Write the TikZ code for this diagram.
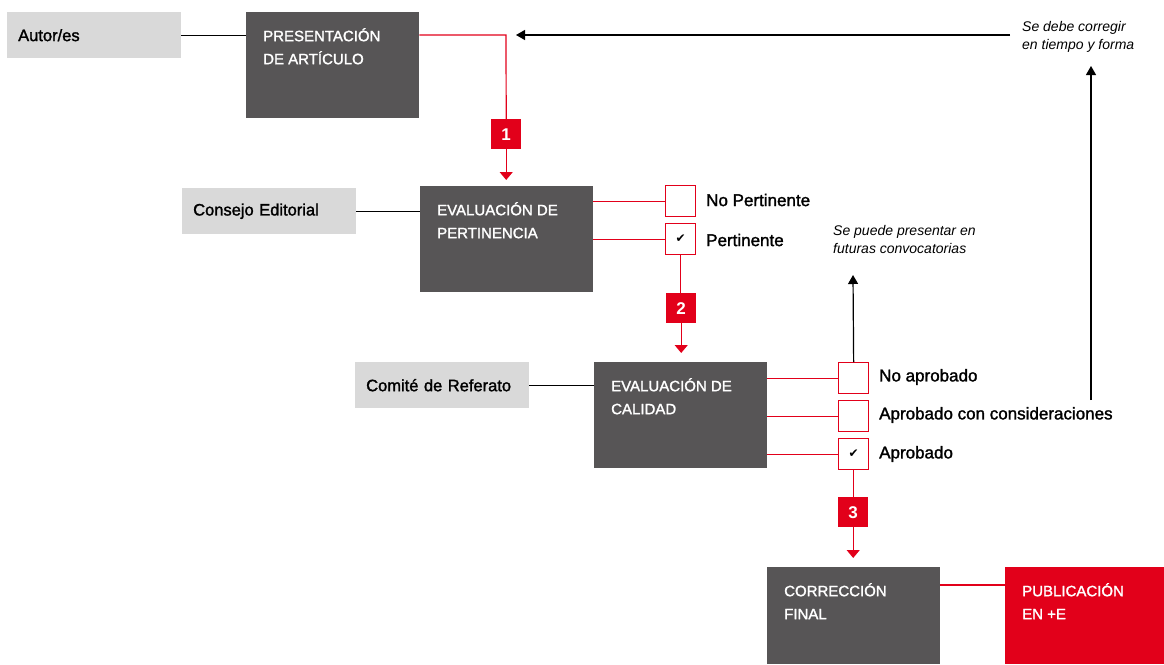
\documentclass[tikz,border=0pt]{standalone}
\usepackage{fontspec}
\setmainfont{Liberation Sans}
\newfontfamily\medfont[FakeBold=1.6]{Liberation Sans}
\newfontfamily\symfont{DejaVu Sans}
\newcommand\myckm{{\symfont\fontsize{12}{12}\selectfont ✔}}
\usetikzlibrary{arrows.meta}
\definecolor{dgrey}{HTML}{575556}
\definecolor{lgrey}{HTML}{D9D9D9}
\definecolor{myred}{HTML}{E2001A}
\tikzset{
  lgbox/.style={fill=lgrey, minimum height=46pt, text width=152pt, inner xsep=11pt, inner ysep=0pt, align=left, anchor=north west, font=\medfont\fontsize{16.5}{20}\selectfont, text=black},
  dbox/.style={fill=dgrey, minimum width=173pt, minimum height=106pt, anchor=north west, inner sep=0pt},
  rbox/.style={fill=myred, minimum width=159pt, minimum height=97pt, anchor=north west, inner sep=0pt},
  dtext/.style={anchor=north west, text=white, align=left, inner xsep=17pt, inner ysep=16pt, font=\medfont\fontsize{15}{23}\selectfont},
  chk/.style={draw=myred, line width=1.3pt, fill=white, minimum width=30pt, minimum height=31pt, inner sep=0pt, anchor=north west},
  badge/.style={fill=myred, minimum width=30pt, minimum height=30pt, inner sep=0pt, anchor=north west, text=white, font=\fontsize{17}{17}\selectfont\bfseries},
  opt/.style={anchor=west, font=\medfont\fontsize{17}{20}\selectfont, inner sep=0pt},
  note/.style={anchor=north west, align=left, font=\fontsize{14}{18}\selectfont\itshape, inner sep=0pt},
  redline/.style={draw=myred, line width=1.2pt},
  redarrow/.style={draw=myred, line width=1.2pt, -{Triangle[width=13pt,length=8pt]}, myred},
  blkline/.style={draw=black, line width=1.2pt},
  blkarrow/.style={draw=black, line width=1.2pt, -{Triangle[width=10pt,length=9pt]}}
}
\begin{document}
\begin{tikzpicture}[x=1pt,y=-1pt]
\useasboundingbox (0,0) rectangle (1164,664);
% row 1
\node[lgbox] (aut) at (7,12) {Autor/es};
\node[dbox] (pres) at (246,12) {};
\node[dtext] (prest) at (pres.north west) {PRESENTACIÓN\\DE ARTÍCULO};
\node[badge] (b1) at (491,119) {1};
% row 2
\node[lgbox] (ce) at (182,188) {Consejo Editorial};
\node[dbox] (ep) at (420,186) {};
\node[dtext] (ept) at (ep.north west) {EVALUACIÓN DE\\PERTINENCIA};
\node[chk] (np) at (665,185) {};
\node[chk] (pe) at (665,223) {\myckm};
\node[opt] (npl) at (706,200) {No Pertinente};
\node[opt] (pel) at (706,240) {Pertinente};
\node[badge] (b2) at (666,293) {2};
% row 3
\node[lgbox] (cr) at (355,362) {Comité de Referato};
\node[dbox] (ec) at (594,362) {};
\node[dtext] (ect) at (ec.north west) {EVALUACIÓN DE\\CALIDAD};
\node[chk] (na) at (838,362) {};
\node[chk] (ac) at (838,400) {};
\node[chk] (ap) at (838,438) {\myckm};
\node[opt] (nal) at (879,377) {No aprobado};
\node[opt] (acl) at (879,415) {Aprobado con consideraciones};
\node[opt] (apl) at (879,454) {Aprobado};
\node[badge] (b3) at (838,497) {3};
% row 4
\node[dbox, minimum height=97pt] (cf) at (767,567) {};
\node[dtext] (cft) at (cf.north west) {CORRECCIÓN\\FINAL};
\node[rbox] (pub) at (1005,567) {};
\node[dtext] (pubt) at (pub.north west) {PUBLICACIÓN\\EN +E};
% notes
\node[note] (n1) at (1022,21) {Se debe corregir\\en tiempo y forma};
\node[note] (n2) at (833,225) {Se puede presentar en\\futuras convocatorias};
% coordinates
\coordinate (r1) at (506,35);
\coordinate (ret) at (1010,35);
\coordinate (rettip) at (516,35);
\coordinate (up1) at (1091,400);
\coordinate (up1tip) at (1091,66);
\coordinate (up2tip) at (853,275);
\coordinate (h4) at (970,585);
% connectors
\draw[blkline] (aut.east) -- (pres.west |- aut.east);
\draw[redline] (pres.east |- r1) -- (r1) -- (b1.north);
\draw[redarrow] (b1.south) -- ([yshift=6pt]ep.north -| b1.south);
\draw[blkarrow] (ret) -- (rettip);
\draw[blkarrow] (up1) -- (up1tip);
\draw[blkline] (ce.east) -- (ep.west |- ce.east);
\draw[redline] (ep.east |- np.west) -- (np.west);
\draw[redline] (ep.east |- pe.west) -- (pe.west);
\draw[redline] (pe.south) -- (b2.north -| pe.south);
\draw[redarrow] (b2.south) -- ([yshift=9pt]ec.north -| b2.south);
\draw[blkline] (cr.east) -- (ec.west |- cr.east);
\draw[redline] (ec.east |- na.west) -- (na.west);
\draw[redline] (ec.east |- ac.west) -- (ac.west);
\draw[redline] (ec.east |- ap.west) -- (ap.west);
\draw[blkarrow] (na.north) -- (up2tip);
\draw[redline] (ap.south) -- (b3.north -| ap.south);
\draw[redarrow] (b3.south) -- ([yshift=9pt]cf.north -| b3.south);
\draw[redline] (cf.east |- h4) -- (pub.west |- h4);
\end{tikzpicture}
\end{document}
